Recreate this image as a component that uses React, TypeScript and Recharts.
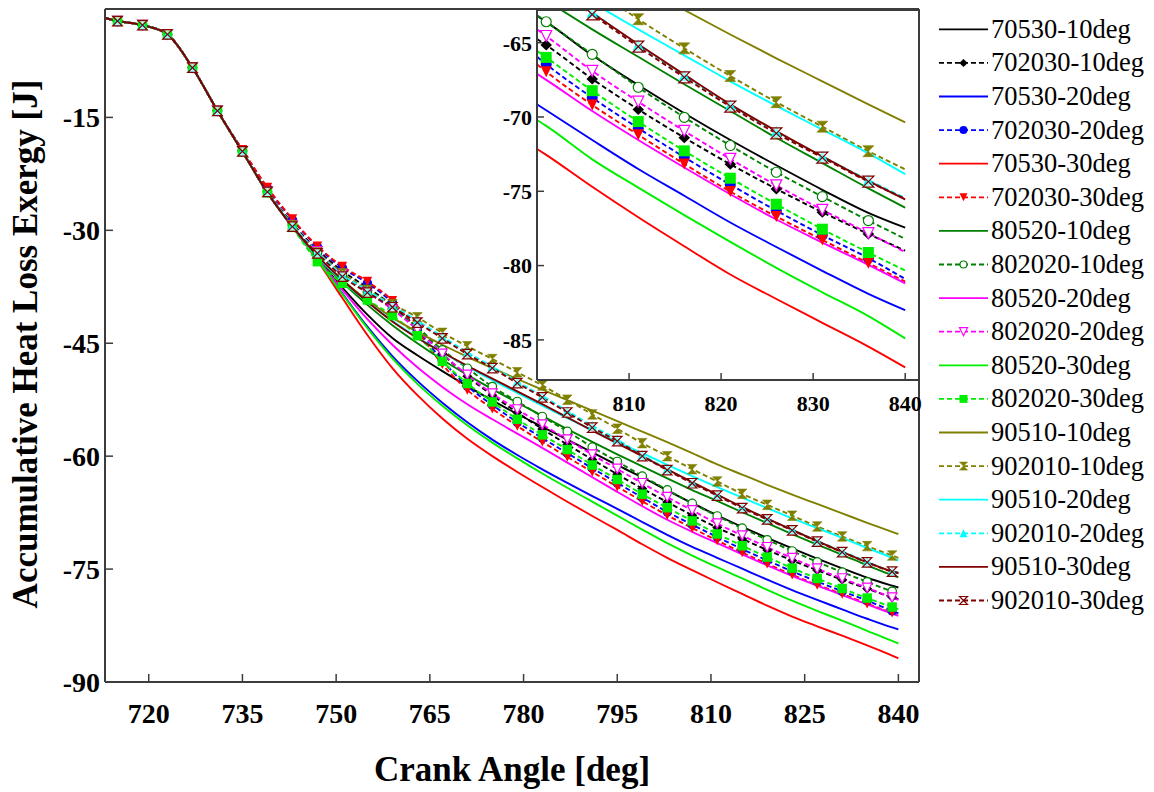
import React from 'react';
import { LineChart, Line, XAxis, YAxis } from 'recharts';

const FONT = 'Liberation Serif, Times New Roman, serif';

// ---- main plot: crank-angle grid (deg) ----
const ANGLES = [713, 715, 719, 723, 727, 731, 735, 739, 743, 747, 751, 755, 759, 763, 767, 771, 775, 779, 783, 787, 791, 795, 799, 803, 807, 811, 815, 819, 823, 827, 831, 835, 839, 840];

// opening segment (713–731 deg), shared by every case
const HEAD = [-1.8, -2.2, -2.75, -3.98, -8.4, -14.12];

// per-case values, 735 … 839 deg (4 deg step) and 840 deg
const C70530_10 = [-19.56, -25.0, -29.52, -33.7, -37.6, -41.2, -44.3, -46.6, -48.7, -50.7, -52.6, -54.4, -56.1, -57.8, -59.5, -61.2, -62.8, -64.55, -66.25, -67.85, -69.4, -70.85, -72.25, -73.6, -74.9, -76.15, -77.2, -77.45];
const C702030_10 = [-19.45, -24.8, -29.1, -32.6, -35.4, -37.6, -40.0, -43.0, -46.4, -49.4, -51.9, -54.2, -56.4, -58.45, -60.45, -62.4, -64.3, -66.1, -67.85, -69.49, -71.0, -72.45, -73.85, -75.15, -76.41, -77.6, -78.75, -79.0];
const C70530_20 = [-19.56, -25.0, -29.52, -33.9, -38.4, -42.8, -46.7, -50.0, -52.9, -55.5, -57.8, -59.85, -61.75, -63.55, -65.3, -67.0, -68.75, -70.45, -72.05, -73.5, -74.95, -76.4, -77.8, -79.1, -80.35, -81.6, -82.75, -83.0];
const C702030_20 = [-19.35, -24.4, -28.6, -32.2, -35.0, -37.0, -39.6, -43.2, -47.3, -50.7, -53.2, -55.5, -57.6, -59.6, -61.6, -63.55, -65.5, -67.4, -69.1, -70.75, -72.35, -73.85, -75.3, -76.65, -77.95, -79.2, -80.55, -80.9];
const C70530_30 = [-19.56, -25.0, -29.52, -34.0, -39.0, -43.9, -48.3, -51.9, -55.0, -57.7, -60.0, -62.1, -64.1, -66.05, -67.95, -69.8, -71.7, -73.5, -75.15, -76.75, -78.3, -79.85, -81.3, -82.6, -83.85, -85.15, -86.5, -86.85];
const C702030_30 = [-19.3, -24.3, -28.5, -32.1, -34.8, -36.8, -39.35, -43.4, -47.8, -51.2, -53.7, -56.0, -58.1, -60.1, -62.1, -64.05, -66.0, -67.85, -69.55, -71.2, -72.8, -74.3, -75.75, -77.1, -78.3, -79.6, -80.8, -81.07];
const C80520_10 = [-19.56, -25.0, -29.52, -33.6, -36.9, -39.9, -42.6, -45.0, -47.2, -49.2, -51.1, -52.9, -54.65, -56.4, -58.1, -59.75, -61.35, -62.95, -64.5, -65.95, -67.45, -68.9, -70.35, -71.75, -73.1, -74.5, -75.8, -76.1];
const C802020_10 = [-19.5, -24.9, -29.3, -33.0, -35.9, -38.2, -40.4, -42.9, -45.88, -48.32, -50.75, -52.74, -54.73, -56.7, -58.8, -60.71, -62.65, -64.47, -66.28, -67.95, -69.56, -71.11, -72.6, -74.05, -75.4, -76.7, -77.95, -78.2];
const C80520_20 = [-19.56, -25.0, -29.52, -33.8, -37.9, -41.8, -45.2, -48.2, -50.8, -53.1, -55.1, -57.0, -58.9, -60.85, -62.8, -64.75, -66.65, -68.45, -70.05, -71.55, -73.05, -74.5, -75.9, -77.2, -78.45, -79.7, -80.9, -81.2];
const C802020_20 = [-19.5, -24.9, -29.3, -32.8, -35.8, -38.2, -40.5, -43.2, -46.4, -49.2, -51.7, -53.8, -55.8, -57.8, -59.8, -61.7, -63.6, -65.45, -67.2, -68.97, -70.55, -72.1, -73.55, -74.95, -76.25, -77.5, -78.8, -79.1];
const C80520_30 = [-19.56, -25.0, -29.52, -33.9, -38.5, -43.0, -47.0, -50.4, -53.3, -55.9, -58.2, -60.3, -62.3, -64.2, -66.05, -67.9, -69.75, -71.55, -73.2, -74.75, -76.25, -77.75, -79.2, -80.55, -81.85, -83.2, -84.55, -84.9];
const C802020_30 = [-19.56, -25.0, -29.6, -34.16, -37.04, -39.25, -41.33, -44.0, -47.4, -50.35, -52.8, -55.1, -57.17, -59.12, -61.18, -63.1, -65.05, -66.85, -68.6, -70.33, -71.9, -73.41, -74.87, -76.25, -77.58, -78.85, -80.04, -80.33];
const C90510_10 = [-19.56, -25.0, -29.52, -33.5, -36.6, -39.3, -41.6, -43.5, -45.2, -46.8, -48.3, -49.75, -51.15, -52.55, -53.95, -55.35, -56.75, -58.15, -59.6, -61.1, -62.45, -63.8, -65.1, -66.35, -67.6, -68.85, -70.05, -70.36];
const C902010_10 = [-19.5, -24.9, -29.3, -32.9, -35.7, -37.9, -39.8, -41.55, -43.62, -45.4, -47.1, -48.85, -50.6, -52.5, -54.45, -56.35, -58.27, -60.0, -61.73, -63.36, -65.0, -66.46, -67.9, -69.34, -70.66, -71.95, -73.2, -73.52];
const C90510_20 = [-19.56, -25.0, -29.52, -33.5, -36.7, -39.5, -42.0, -44.2, -46.2, -48.1, -49.9, -51.6, -53.3, -54.95, -56.55, -58.1, -59.6, -61.15, -62.65, -64.1, -65.5, -66.9, -68.25, -69.55, -70.85, -72.2, -73.5, -73.85];
const C902010_20 = [-19.5, -24.9, -29.3, -32.9, -35.9, -38.0, -40.0, -42.0, -44.1, -46.2, -48.1, -50.1, -52.0, -54.0, -55.95, -57.8, -59.85, -61.7, -63.5, -65.15, -66.8, -68.3, -69.75, -71.25, -72.65, -74.0, -75.3, -75.45];
const C90510_30 = [-19.56, -25.0, -29.52, -33.4, -36.6, -39.5, -42.1, -44.3, -46.2, -48.0, -49.7, -51.4, -53.1, -54.85, -56.6, -58.3, -60.0, -61.75, -63.45, -65.1, -66.75, -68.3, -69.8, -71.3, -72.7, -74.1, -75.3, -75.55];
const C902010_30 = [-19.5, -24.9, -29.5, -33.05, -36.15, -38.27, -40.22, -42.25, -44.35, -46.45, -48.3, -50.3, -52.2, -54.2, -56.2, -58.0, -60.0, -61.85, -63.6, -65.25, -66.9, -68.4, -69.85, -71.35, -72.75, -74.1, -75.35, -75.5];

// ---- inset (800–840 deg close-up) ----
const INSET_ANGLES = [800, 801, 806, 811, 816, 821, 826, 831, 836, 840];
const Z70530_10 = [-63.2, -63.6, -65.85, -67.85, -69.75, -71.55, -73.25, -74.9, -76.45, -77.45];
const Z702030_10 = [-64.75, -65.16, -67.44, -69.49, -71.39, -73.18, -74.84, -76.41, -77.87, -79.0];
const Z70530_20 = [-69.15, -69.55, -71.55, -73.5, -75.3, -77.1, -78.75, -80.35, -81.9, -83.0];
const Z702030_20 = [-65.95, -66.45, -68.7, -70.75, -72.7, -74.55, -76.3, -77.95, -79.5, -80.9];
const Z70530_30 = [-72.15, -72.55, -74.7, -76.75, -78.7, -80.6, -82.25, -83.85, -85.45, -86.85];
const Z702030_30 = [-66.45, -66.95, -69.19, -71.2, -73.16, -75.02, -76.7, -78.27, -79.84, -81.07];
const Z80520_10 = [-61.75, -62.15, -64.1, -65.95, -67.8, -69.6, -71.4, -73.1, -74.8, -76.1];
const Z802020_10 = [-63.15, -63.59, -65.78, -68.0, -70.02, -71.92, -73.72, -75.36, -76.97, -78.2];
const Z80520_20 = [-67.1, -67.5, -69.6, -71.55, -73.4, -75.2, -76.9, -78.45, -79.95, -81.2];
const Z802020_20 = [-64.1, -64.55, -66.9, -68.97, -70.94, -72.82, -74.6, -76.25, -77.82, -79.1];
const Z80520_30 = [-70.2, -70.6, -72.85, -74.75, -76.6, -78.4, -80.15, -81.8, -83.4, -84.9];
const Z802020_30 = [-65.55, -65.99, -68.23, -70.31, -72.28, -74.12, -75.87, -77.55, -79.12, -80.33];
const Z90510_10 = [-57.1, -57.45, -59.25, -61.1, -62.8, -64.45, -66.05, -67.6, -69.15, -70.36];
const Z902010_10 = [-58.7, -59.1, -61.3, -63.42, -65.38, -67.24, -69.0, -70.65, -72.3, -73.52];
const Z90510_20 = [-60.0, -60.4, -62.3, -64.1, -65.85, -67.6, -69.25, -70.85, -72.45, -73.85];
const Z902010_20 = [-60.35, -60.8, -62.95, -65.15, -67.2, -69.2, -70.98, -72.65, -74.25, -75.45];
const Z90510_30 = [-60.45, -60.9, -63.0, -65.1, -67.15, -69.15, -70.95, -72.65, -74.3, -75.55];
const Z902010_30 = [-60.5, -60.95, -63.1, -65.27, -67.33, -69.3, -71.1, -72.73, -74.35, -75.5];

// ---- tick positions ----
const X_TICKS = [720, 735, 750, 765, 780, 795, 810, 825, 840];
const Y_TICKS = [-90, -75, -60, -45, -30, -15];
const INSET_X_TICKS = [810, 820, 830, 840];
const INSET_Y_TICKS = [-85, -80, -75, -70, -65];

const range = (a: number, b: number, step: number) => {
  const out: number[] = [];
  for (let v = a; v <= b + 1e-9; v += step) out.push(Math.round(v * 100) / 100);
  return out;
};
const X_MINOR = range(714, 843, 3);
const Y_MINOR = range(-90, -3, 3);
const INSET_X_MINOR = range(800, 840, 2);
const INSET_Y_MINOR = range(-87, -63, 1);

type Shape = 'none' | 'diamond' | 'circle' | 'circleOpen' | 'triDown' | 'triDownOpen' | 'triUp' | 'square' | 'hourglass' | 'hourglassOpen';

interface Series {
  key: string;
  name: string;
  color: string;
  dashed: boolean;
  shape: Shape;
  main: number[];
  inset: number[];
}

const SERIES: Series[] = [
  { key: 's1', name: '70530-10deg', color: '#000000', dashed: false, shape: 'none', main: C70530_10, inset: Z70530_10 },
  { key: 's2', name: '702030-10deg', color: '#000000', dashed: true, shape: 'diamond', main: C702030_10, inset: Z702030_10 },
  { key: 's3', name: '70530-20deg', color: '#0000ff', dashed: false, shape: 'none', main: C70530_20, inset: Z70530_20 },
  { key: 's4', name: '702030-20deg', color: '#0000ff', dashed: true, shape: 'circle', main: C702030_20, inset: Z702030_20 },
  { key: 's5', name: '70530-30deg', color: '#ff0000', dashed: false, shape: 'none', main: C70530_30, inset: Z70530_30 },
  { key: 's6', name: '702030-30deg', color: '#ff0000', dashed: true, shape: 'triDown', main: C702030_30, inset: Z702030_30 },
  { key: 's7', name: '80520-10deg', color: '#008000', dashed: false, shape: 'none', main: C80520_10, inset: Z80520_10 },
  { key: 's8', name: '802020-10deg', color: '#008000', dashed: true, shape: 'circleOpen', main: C802020_10, inset: Z802020_10 },
  { key: 's9', name: '80520-20deg', color: '#ff00ff', dashed: false, shape: 'none', main: C80520_20, inset: Z80520_20 },
  { key: 's10', name: '802020-20deg', color: '#ff00ff', dashed: true, shape: 'triDownOpen', main: C802020_20, inset: Z802020_20 },
  { key: 's11', name: '80520-30deg', color: '#00ee00', dashed: false, shape: 'none', main: C80520_30, inset: Z80520_30 },
  { key: 's12', name: '802020-30deg', color: '#00ee00', dashed: true, shape: 'square', main: C802020_30, inset: Z802020_30 },
  { key: 's13', name: '90510-10deg', color: '#808000', dashed: false, shape: 'none', main: C90510_10, inset: Z90510_10 },
  { key: 's14', name: '902010-10deg', color: '#808000', dashed: true, shape: 'hourglass', main: C902010_10, inset: Z902010_10 },
  { key: 's15', name: '90510-20deg', color: '#00ffff', dashed: false, shape: 'none', main: C90510_20, inset: Z90510_20 },
  { key: 's16', name: '902010-20deg', color: '#00ffff', dashed: true, shape: 'triUp', main: C902010_20, inset: Z902010_20 },
  { key: 's17', name: '90510-30deg', color: '#800000', dashed: false, shape: 'none', main: C90510_30, inset: Z90510_30 },
  { key: 's18', name: '902010-30deg', color: '#800000', dashed: true, shape: 'hourglassOpen', main: C902010_30, inset: Z902010_30 },
];

// table rows for the main plot and the inset
const MAIN_ROWS = ANGLES.map((angle, i) => {
  const row: Record<string, number> = { angle };
  SERIES.forEach((s) => {
    row[s.key] = i < HEAD.length ? HEAD[i] : s.main[i - HEAD.length];
  });
  return row;
});

const INSET_ROWS = INSET_ANGLES.map((angle, i) => {
  const row: Record<string, number> = { angle };
  SERIES.forEach((s) => {
    row[s.key] = s.inset[i];
  });
  return row;
});

function Glyph({ shape, x, y, size, color }: { shape: Shape; x: number; y: number; size: number; color: string }) {
  const h = size / 2;
  const sw = 1.2;
  switch (shape) {
    case 'diamond':
      return <polygon points={`${x},${y - h} ${x + h * 1.05},${y} ${x},${y + h} ${x - h * 1.05},${y}`} fill={color} />;
    case 'circle':
      return <circle cx={x} cy={y} r={h} fill={color} />;
    case 'circleOpen':
      return <circle cx={x} cy={y} r={h - 0.5} fill="#ffffff" stroke={color} strokeWidth={sw} />;
    case 'triDown':
      return <polygon points={`${x - h},${y - h} ${x + h},${y - h} ${x},${y + h}`} fill={color} />;
    case 'triDownOpen':
      return <polygon points={`${x - h},${y - h} ${x + h},${y - h} ${x},${y + h}`} fill="#ffffff" stroke={color} strokeWidth={sw} />;
    case 'triUp':
      return <polygon points={`${x - h},${y + h} ${x + h},${y + h} ${x},${y - h}`} fill={color} />;
    case 'square':
      return <rect x={x - h} y={y - h} width={size} height={size} fill={color} />;
    case 'hourglass':
      return <path d={`M${x - h},${y - h}L${x + h},${y - h}L${x - h},${y + h}L${x + h},${y + h}Z`} fill={color} stroke={color} strokeWidth={0.6} />;
    case 'hourglassOpen':
      return <path d={`M${x - h},${y - h}L${x + h},${y - h}L${x - h},${y + h}L${x + h},${y + h}Z`} fill="#ffffff" fillOpacity={0.6} stroke={color} strokeWidth={sw} />;
    default:
      return null;
  }
}

const makeDot = (s: Series, size: number, show: (a: number) => boolean) => (props: any) => {
  const { cx, cy, payload, index } = props;
  const k = `${s.key}-${index}`;
  if (s.shape === 'none' || cx == null || cy == null || !show(payload.angle)) return <g key={k} />;
  return (
    <g key={k}>
      <Glyph shape={s.shape} x={cx} y={cy} size={size} color={s.color} />
    </g>
  );
};

const mainMarkerAt = (a: number) => a >= 715 && a <= 839 && (a - 715) % 4 === 0;
const insetMarkerAt = (a: number) => a >= 801 && a <= 836 && (a - 801) % 5 === 0;

const AXIS_COLOR = '#3c3c3c';
const axisLine = { stroke: AXIS_COLOR, strokeWidth: 2 };
const tickLine = { stroke: AXIS_COLOR, strokeWidth: 1.5 };

// Box frame: labelled bottom/left axes, mirrored top/right axes, plus minor-tick axes.
// Every axis is 1px thick so it is laid out and drawn; ticks point inwards.
function frameAxes(
  xDomain: [number, number],
  yDomain: [number, number],
  xTicks: number[],
  yTicks: number[],
  xMinor: number[],
  yMinor: number[],
  major: number,
  minor: number,
  fontSize: number,
  xMargin: number,
  yMargin: number
) {
  const tickFont = { fontSize, fontWeight: 700, fill: '#000', fontFamily: FONT };
  return [
    <XAxis key="xb" dataKey="angle" type="number" domain={xDomain} allowDataOverflow ticks={xTicks} interval={0}
      height={1} tickSize={-major} tickMargin={xMargin} axisLine={axisLine} tickLine={tickLine} tick={tickFont} />,
    <XAxis key="xbm" xAxisId="xbm" type="number" domain={xDomain} allowDataOverflow ticks={xMinor} interval={0}
      height={1} tickSize={-(minor + 1)} axisLine={false} tickLine={tickLine} tick={false} />,
    <XAxis key="xt" xAxisId="xt" orientation="top" type="number" domain={xDomain} allowDataOverflow ticks={xTicks} interval={0}
      height={1} tickSize={-major} axisLine={axisLine} tickLine={tickLine} tick={false} />,
    <XAxis key="xtm" xAxisId="xtm" orientation="top" type="number" domain={xDomain} allowDataOverflow ticks={xMinor} interval={0}
      height={1} tickSize={-(minor + 1)} axisLine={false} tickLine={tickLine} tick={false} />,
    <YAxis key="yl" type="number" domain={yDomain} allowDataOverflow ticks={yTicks} interval={0}
      width={1} tickSize={-major} tickMargin={yMargin} axisLine={axisLine} tickLine={tickLine} tick={tickFont} />,
    <YAxis key="ylm" yAxisId="ylm" type="number" domain={yDomain} allowDataOverflow ticks={yMinor} interval={0}
      width={1} tickSize={-(minor + 1)} axisLine={false} tickLine={tickLine} tick={false} />,
    <YAxis key="yr" yAxisId="yr" orientation="right" type="number" domain={yDomain} allowDataOverflow ticks={yTicks} interval={0}
      width={1} tickSize={-major} axisLine={axisLine} tickLine={tickLine} tick={false} />,
    <YAxis key="yrm" yAxisId="yrm" orientation="right" type="number" domain={yDomain} allowDataOverflow ticks={yMinor} interval={0}
      width={1} tickSize={-(minor + 1)} axisLine={false} tickLine={tickLine} tick={false} />,
  ];
}

// plot box of the main chart: x 105–919, y 9–682
function MainChart() {
  return (
    <LineChart width={1154} height={792} data={MAIN_ROWS} margin={{ top: 7, right: 233, bottom: 108, left: 103 }}>
      {frameAxes([713, 843.3], [-90, -0.6], X_TICKS, Y_TICKS, X_MINOR, Y_MINOR, 8, 4, 28, 29, 13)}
      {SERIES.map((s) => (
        <Line key={s.key} dataKey={s.key} type="monotone" stroke={s.color} strokeWidth={1.9}
          strokeDasharray={s.dashed ? '5 3' : undefined} dot={makeDot(s, 9.5, mainMarkerAt)} activeDot={false}
          isAnimationActive={false} />
      ))}
    </LineChart>
  );
}

// plot box of the inset: x 537–919, y 10–380
function InsetChart() {
  return (
    <LineChart width={1154} height={792} data={INSET_ROWS} margin={{ top: 8, right: 233, bottom: 410, left: 535 }}>
      {frameAxes([800, 841.5], [-87.7, -62.8], INSET_X_TICKS, INSET_Y_TICKS, INSET_X_MINOR, INSET_Y_MINOR, 7, 3, 22, 22, 12)}
      {SERIES.map((s) => (
        <Line key={s.key} dataKey={s.key} type="monotone" stroke={s.color} strokeWidth={1.9}
          strokeDasharray={s.dashed ? '5 3' : undefined} dot={makeDot(s, 11, insetMarkerAt)} activeDot={false}
          isAnimationActive={false} />
      ))}
    </LineChart>
  );
}

function SeriesKey() {
  const top = 29.3;
  const step = 33.6;
  return (
    <svg width={224} height={640} style={{ position: 'absolute', left: 930, top: 0 }}>
      {SERIES.map((s, i) => {
        const y = top + i * step;
        return (
          <g key={s.key}>
            <line x1={9} y1={y} x2={58} y2={y} stroke={s.color} strokeWidth={1.8} strokeDasharray={s.dashed ? '5 3' : undefined} />
            <Glyph shape={s.shape} x={33.5} y={y} size={8} color={s.color} />
            <text x={61} y={y + 8.5} fontFamily={FONT} fontSize={26.5} fill="#000">{s.name}</text>
          </g>
        );
      })}
    </svg>
  );
}

function Titles() {
  return (
    <svg width={1154} height={792} style={{ position: 'absolute', left: 0, top: 0, pointerEvents: 'none' }}>
      <text x={512} y={781} textAnchor="middle" fontFamily={FONT} fontWeight={700} fontSize={35} fill="#000">
        Crank Angle [deg]
      </text>
      <text transform="translate(37,344) rotate(-90)" textAnchor="middle" fontFamily={FONT} fontWeight={700} fontSize={35} fill="#000">
        Accumulative Heat Loss Exergy [J]
      </text>
    </svg>
  );
}

export default function App() {
  return (
    <div style={{ position: 'absolute', left: 0, top: 0, width: 1154, height: 792, background: '#ffffff', overflow: 'hidden', fontFamily: FONT }}>
      <div style={{ position: 'absolute', left: 0, top: 0 }}>
        <MainChart />
      </div>
      <div style={{ position: 'absolute', left: 537, top: 10, width: 382, height: 370, background: '#ffffff' }} />
      <div style={{ position: 'absolute', left: 0, top: 0 }}>
        <InsetChart />
      </div>
      <Titles />
      <SeriesKey />
    </div>
  );
}
